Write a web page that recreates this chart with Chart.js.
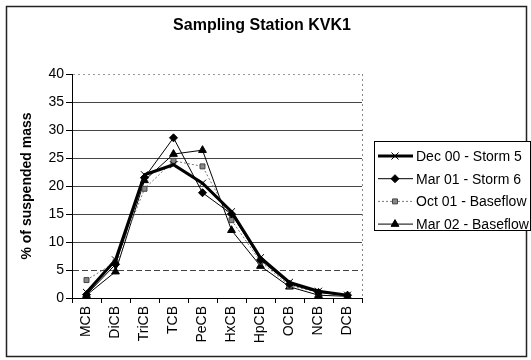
<!DOCTYPE html>
<html>
<head>
<meta charset="utf-8">
<script src="https://cdn.jsdelivr.net/npm/chart.js@4"></script>
<style>
  body { margin: 0; background: #fff; }
  #wrap { width: 531px; height: 360px; }
</style>
</head>
<body>
<div id="wrap"><canvas id="kvk1"></canvas></div>
<script>
const categories = ['MCB', 'DiCB', 'TriCB', 'TCB', 'PeCB', 'HxCB', 'HpCB', 'OCB', 'NCB', 'DCB'];
const dec00 = [1.0, 6.8, 22.0, 23.8, 20.5, 15.4, 7.2, 2.8, 1.2, 0.5];
const mar01 = [0.6, 6.0, 21.5, 28.6, 18.8, 15.0, 6.8, 2.5, 1.0, 0.5];
const oct01 = [3.2, 6.4, 19.5, 24.5, 23.5, 13.9, 6.5, 2.2, 1.0, 0.4];
const mar02 = [0.5, 4.7, 21.0, 25.7, 26.4, 12.1, 5.7, 2.0, 0.5, 0.3];
const seriesNames = ['Dec 00 - Storm 5', 'Mar 01 - Storm 6', 'Oct 01 - Baseflow', 'Mar 02 - Baseflow'];
const chartTitle = 'Sampling Station KVK1';

const FONT = '"Liberation Sans", Arial, sans-serif';

// white page, outer frame, centred title
const frame = {
  id: 'frame',
  beforeDraw(chart) {
    const c = chart.ctx;
    c.save();
    c.fillStyle = '#fff';
    c.fillRect(0, 0, chart.width, chart.height);
    c.strokeStyle = '#222';
    c.lineWidth = 1.5;
    c.strokeRect(6.5, 6.5, 520, 350);
    c.fillStyle = '#000';
    c.font = 'bold 16px ' + FONT;
    c.textAlign = 'center';
    c.textBaseline = 'middle';
    c.fillText(chartTitle, 262, 26);
    c.restore();
  },
  beforeDatasetsDraw(chart) {
    // dotted right edge of the plot area
    const a = chart.chartArea, c = chart.ctx;
    c.save();
    c.strokeStyle = '#888';
    c.setLineDash([2, 3]);
    c.beginPath();
    c.moveTo(a.right + 0.5, a.top);
    c.lineTo(a.right + 0.5, a.bottom);
    c.stroke();
    c.restore();
  }
};

// excel-like boxed legend with line samples
const boxLegend = {
  id: 'boxLegend',
  afterDraw(chart) {
    const c = chart.ctx;
    const x0 = 374, y0 = 141, w = 156, h = 89;
    c.save();
    c.fillStyle = '#fff';
    c.fillRect(x0, y0, w, h);
    c.strokeStyle = '#000';
    c.lineWidth = 1;
    c.strokeRect(x0 + 0.5, y0 + 0.5, w, h);
    c.font = '14px ' + FONT;
    c.textBaseline = 'middle';
    chart.data.datasets.forEach((ds, i) => {
      const y = 156 + i * 22.7;
      c.strokeStyle = ds.borderColor;
      c.lineWidth = ds.borderWidth;
      c.setLineDash(ds.borderDash || []);
      c.beginPath();
      c.moveTo(378, y);
      c.lineTo(413, y);
      c.stroke();
      c.setLineDash([]);
      c.fillStyle = ds.pointBackgroundColor;
      c.strokeStyle = ds.pointBorderColor;
      c.lineWidth = 1;
      Chart.helpers.drawPoint(c, {pointStyle: ds.pointStyle, radius: ds.pointRadius, rotation: 0, borderWidth: 1}, 395, y);
      c.fillStyle = '#000';
      c.fillText(ds.label, 416, y + 1);
    });
    c.restore();
  }
};

function gridDash(ctx) {
  const v = ctx.tick && ctx.tick.value;
  if (v === 40) return [2, 3];
  if (v === 5) return [6, 3];
  return [];
}

new Chart(document.getElementById('kvk1'), {
  type: 'line',
  data: {
    labels: categories,
    datasets: [
      {label: seriesNames[0], data: dec00, borderColor: '#000', borderWidth: 3,
       pointStyle: 'crossRot', pointRadius: 5, pointBorderColor: '#000', pointBackgroundColor: '#000', pointBorderWidth: 1},
      {label: seriesNames[1], data: mar01, borderColor: '#000', borderWidth: 1,
       pointStyle: 'rectRot', pointRadius: 4, pointBorderColor: '#000', pointBackgroundColor: '#000', pointBorderWidth: 1},
      {label: seriesNames[2], data: oct01, borderColor: '#777', borderWidth: 1, borderDash: [2, 2],
       pointStyle: 'rect', pointRadius: 3.5, pointBorderColor: '#444', pointBackgroundColor: '#888', pointBorderWidth: 1},
      {label: seriesNames[3], data: mar02, borderColor: '#000', borderWidth: 1,
       pointStyle: 'triangle', pointRadius: 4.5, pointBorderColor: '#000', pointBackgroundColor: '#000', pointBorderWidth: 1}
    ]
  },
  options: {
    responsive: true,
    maintainAspectRatio: false,
    animation: false,
    tension: 0,
    layout: {padding: {left: 0, right: 169, top: 74, bottom: 0}},
    plugins: {
      legend: {display: false},
      tooltip: {enabled: false},
      title: {display: false}
    },
    scales: {
      x: {
        offset: true,
        grid: {offset: true, drawOnChartArea: false, drawTicks: true, tickLength: 5, tickColor: '#000'},
        border: {color: '#000', width: 1},
        ticks: {color: '#000', font: {family: FONT, size: 14}, minRotation: 90, maxRotation: 90, padding: 3, autoSkip: false},
        afterFit(s) { s.height = 62; }
      },
      y: {
        min: 0, max: 40,
        ticks: {stepSize: 5, color: '#000', font: {family: FONT, size: 14}, padding: 2},
        grid: {color: ctx => (ctx.tick && ctx.tick.value === 40) ? '#999' : '#444', lineWidth: 1, tickLength: 6, tickColor: '#000'},
        border: {color: '#000', width: 1, dash: gridDash},
        title: {display: true, text: '% of suspended mass', color: '#000',
                font: {family: FONT, size: 14, weight: 'bold'}, padding: {top: 19, bottom: 0}},
        afterFit(s) { s.width = 72; }
      }
    }
  },
  plugins: [frame, boxLegend]
});
</script>
</body>
</html>
